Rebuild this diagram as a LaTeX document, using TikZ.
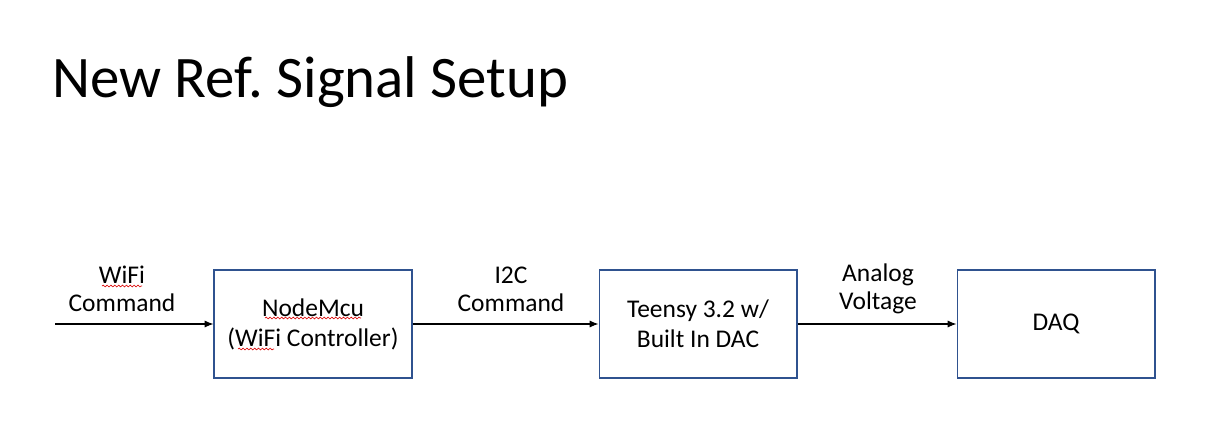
\documentclass[tikz,border=0pt]{standalone}
\usepackage{fontspec}
\setmainfont{Carlito}
\usetikzlibrary{arrows.meta,decorations.pathmorphing}
\definecolor{boxblue}{RGB}{47,82,143}
\begin{document}
\begin{tikzpicture}[x=0.02cm,y=-0.02cm,
    blk/.style={draw=boxblue,line width=0.6pt,minimum width=3.96cm,minimum height=2.16cm,
      inner sep=0pt,align=center,font=\fontsize{14.5}{17}\selectfont},
    lbl/.style={align=center,inner sep=0pt,font=\fontsize{14.5}{16}\selectfont},
    sig/.style={-{Latex[length=5pt,width=4pt]},line width=0.6pt},
    squig/.style={red!85!black,line width=0.35pt,decorate,
      decoration={snake,amplitude=0.5pt,segment length=2.2pt}}]
  \useasboundingbox(0,0)rectangle(1226,447);
  \node[anchor=base west,inner sep=0pt,font=\fontsize{33.5}{40}\selectfont](title)at(52,97){New Ref.\ Signal Setup};
  % blocks
  \node[blk](nmcu)at(313,324){NodeMcu\\(WiFi Controller)};
  \node[blk](teensy)at(698,324){Teensy 3.2 w/\\Built In DAC};
  \node[blk](daq)at(1056,324){DAQ};
  \coordinate(in)at(55,324);
  % signals
  \draw[sig](in)--(nmcu);
  \draw[sig](nmcu)--(teensy);
  \draw[sig](teensy)--(daq);
  \node[lbl](wifi)at(122,289){WiFi\\Command};
  \node[lbl](i2c)at(511,289){I2C\\Command};
  \node[lbl](analog)at(878,289){Analog\\Voltage};
  % spell check marks
  \draw[squig](102,286)--(142,286);
  \draw[squig](265,318)--(361,318);
  \draw[squig](238,349)--(274,349);
\end{tikzpicture}
\end{document}
